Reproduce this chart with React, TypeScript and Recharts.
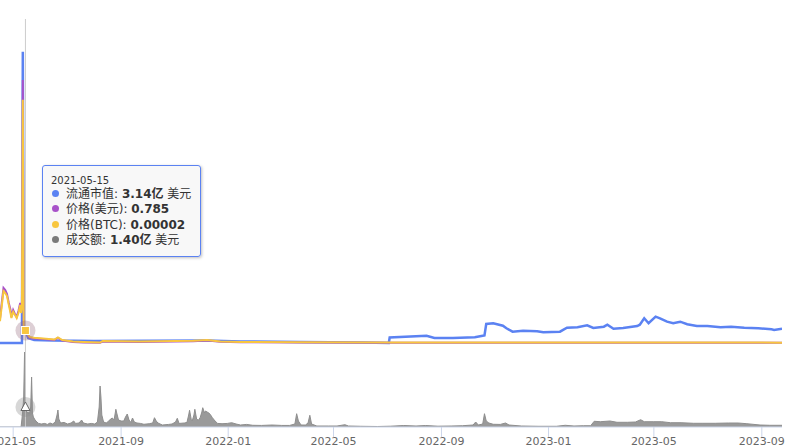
import React from "react";
import {
  Area,
  ComposedChart,
  Line,
  ReferenceDot,
  ReferenceLine,
  XAxis,
  YAxis,
} from "recharts";

// 流通市值 (亿 美元)
const capDates = [
  "2021-04-16", "2021-05-11", "2021-05-12", "2021-05-13", "2021-05-14", "2021-05-15",
  "2021-05-18", "2021-05-25", "2021-06-15", "2021-08-01", "2021-12-08", "2022-01-15",
  "2022-03-24", "2022-06-01", "2022-07-03", "2022-07-04", "2022-08-15", "2022-08-24",
  "2022-09-14", "2022-10-09", "2022-10-18", "2022-10-20", "2022-10-22", "2022-10-30",
  "2022-11-10", "2022-11-14", "2022-11-21", "2022-12-03", "2022-12-19", "2022-12-26",
  "2023-01-14", "2023-01-22", "2023-02-03", "2023-02-14", "2023-02-21", "2023-03-05",
  "2023-03-09", "2023-03-16", "2023-03-27", "2023-04-12", "2023-04-15", "2023-04-20",
  "2023-04-25", "2023-05-03", "2023-05-08", "2023-05-16", "2023-05-23", "2023-05-31",
  "2023-06-08", "2023-06-19", "2023-07-01", "2023-07-16", "2023-07-28", "2023-08-12",
  "2023-08-28", "2023-09-12", "2023-09-15", "2023-09-24",
];
const capValues = [
  0, 0, 72.8, 4.0, 3.5, 3.14,
  1.25, 0.75, 0.6, 0.5, 0.6, 0.4,
  0.25, 0.12, 0, 1.38, 1.83, 1.25,
  1.25, 1.43, 1.83, 1.88, 4.75, 4.93,
  4.33, 3.68, 2.83, 3.08, 2.93, 2.68,
  2.83, 3.83, 3.93, 4.43, 3.75, 4.08,
  4.58, 3.58, 3.75, 4.25, 4.58, 6.18,
  4.93, 6.58, 6.18, 5.33, 4.93, 5.33,
  4.68, 4.25, 4.25, 3.93, 4.08, 3.83,
  3.68, 3.43, 3.25, 3.58,
];

// 价格 (美元) and 价格 (BTC)
const priceDates = [
  "2021-04-16", "2021-04-18", "2021-04-20", "2021-04-22", "2021-04-24", "2021-04-26",
  "2021-04-28", "2021-04-29", "2021-05-01", "2021-05-03", "2021-05-05", "2021-05-07",
  "2021-05-09", "2021-05-10", "2021-05-11", "2021-05-12", "2021-05-13", "2021-05-14",
  "2021-05-15", "2021-05-18", "2021-05-20", "2021-05-25", "2021-06-04", "2021-06-17",
  "2021-06-21", "2021-06-26", "2021-07-08", "2021-07-20", "2021-08-08", "2021-08-11",
  "2021-09-22", "2021-11-22", "2021-12-08", "2021-12-23", "2022-01-15", "2022-03-24",
  "2022-07-04", "2022-10-20", "2023-02-28", "2023-06-21", "2023-09-24",
];
const priceUsd = [
  1.57, 2.62, 3.6, 3.47, 3.2, 2.62,
  2.16, 1.7, 2.16, 1.9, 1.7, 2.09,
  2.62, 2.09, 2.49, 17.2, 0.92, 0.72,
  0.785, 0.46, 0.33, 0.29, 0.26, 0.2,
  0.33, 0.16, 0.065, 0.033, 0.02, 0.098,
  0.065, 0.118, 0.164, 0.078, 0.052, 0.033,
  0.013, 0.013, 0.013, 0.013, 0.013,
];
const priceBtc = [
  3.5e-5, 5.9e-5, 8.3e-5, 8.0e-5, 7.5e-5, 6.1e-5,
  4.8e-5, 4.0e-5, 5.0e-5, 4.5e-5, 4.0e-5, 4.8e-5,
  6.1e-5, 4.8e-5, 5.8e-5, 3.89e-4, 2.2e-5, 1.9e-5,
  2.0e-5, 1.3e-5, 9.6e-6, 8.5e-6, 7.2e-6, 5.6e-6,
  8.8e-6, 4.8e-6, 2.4e-6, 1.6e-6, 8e-7, 3.2e-6,
  2.4e-6, 3.5e-6, 4.8e-6, 2.4e-6, 1.6e-6, 1.1e-6,
  8e-7, 1e-6, 8e-7, 8e-7, 6e-7,
];

// 成交额 (亿 美元)
const volDates = [
  "2021-04-16", "2021-05-10", "2021-05-11", "2021-05-12", "2021-05-13", "2021-05-14",
  "2021-05-15", "2021-05-16", "2021-05-17", "2021-05-18", "2021-05-19", "2021-05-20",
  "2021-05-21", "2021-05-22", "2021-05-23", "2021-05-24", "2021-05-26", "2021-05-28",
  "2021-05-30", "2021-06-02", "2021-06-06", "2021-06-09", "2021-06-12", "2021-06-15",
  "2021-06-18", "2021-06-20", "2021-06-21", "2021-06-22", "2021-06-24", "2021-06-28",
  "2021-07-02", "2021-07-06", "2021-07-09", "2021-07-11", "2021-07-15", "2021-07-18",
  "2021-07-20", "2021-07-25", "2021-07-29", "2021-08-02", "2021-08-05", "2021-08-07",
  "2021-08-08", "2021-08-09", "2021-08-10", "2021-08-12", "2021-08-15", "2021-08-18",
  "2021-08-20", "2021-08-22", "2021-08-24", "2021-08-26", "2021-08-27", "2021-08-29",
  "2021-09-01", "2021-09-04", "2021-09-06", "2021-09-08", "2021-09-10", "2021-09-12",
  "2021-09-14", "2021-09-16", "2021-09-19", "2021-09-23", "2021-09-27", "2021-10-03",
  "2021-10-07", "2021-10-09", "2021-10-11", "2021-10-13", "2021-10-18", "2021-10-25",
  "2021-10-29", "2021-11-02", "2021-11-04", "2021-11-06", "2021-11-12", "2021-11-15",
  "2021-11-17", "2021-11-18", "2021-11-20", "2021-11-21", "2021-11-23", "2021-11-24",
  "2021-11-26", "2021-11-28", "2021-11-30", "2021-12-02", "2021-12-03", "2021-12-05",
  "2021-12-06", "2021-12-08", "2021-12-10", "2021-12-12", "2021-12-14", "2021-12-17",
  "2021-12-20", "2021-12-25", "2021-12-31", "2022-01-05", "2022-01-10", "2022-01-15",
  "2022-01-22", "2022-01-29", "2022-02-08", "2022-02-20", "2022-03-03", "2022-03-12",
  "2022-03-18", "2022-03-20", "2022-03-22", "2022-03-25", "2022-03-30", "2022-04-02",
  "2022-04-04", "2022-04-06", "2022-04-12", "2022-04-25", "2022-05-05", "2022-05-14",
  "2022-05-18", "2022-06-01", "2022-06-20", "2022-07-05", "2022-07-20", "2022-08-03",
  "2022-08-14", "2022-08-28", "2022-09-12", "2022-09-25", "2022-10-07", "2022-10-10",
  "2022-10-13", "2022-10-18", "2022-10-20", "2022-10-22", "2022-10-25", "2022-10-30",
  "2022-11-07", "2022-11-13", "2022-11-17", "2022-12-01", "2022-12-20", "2023-01-10",
  "2023-01-20", "2023-01-30", "2023-02-10", "2023-02-18", "2023-02-22", "2023-03-01",
  "2023-03-12", "2023-03-20", "2023-04-01", "2023-04-10", "2023-04-16", "2023-04-20",
  "2023-05-01", "2023-05-10", "2023-05-20", "2023-06-01", "2023-06-15", "2023-06-25",
  "2023-07-10", "2023-07-25", "2023-08-05", "2023-08-15", "2023-08-30", "2023-09-10",
  "2023-09-24",
];
const volValues = [
  0, 0, 0.56, 1.2, 2.1, 5.25,
  1.4, 1.12, 0.98, 1.05, 0.91, 1.05,
  1.4, 3.5, 0.98, 0.7, 0.49, 0.35,
  0.25, 0.21, 0.25, 0.18, 0.28, 0.21,
  0.35, 0.84, 1.19, 0.56, 0.28, 0.32,
  0.21, 0.28, 0.42, 0.25, 0.28, 0.49,
  0.28, 0.21, 0.25, 0.21, 0.35, 1.4,
  2.87, 2.1, 0.84, 0.35, 0.28, 0.42,
  0.56, 0.63, 0.49, 1.24, 0.98, 0.49,
  0.42, 0.42, 0.7, 0.91, 0.49, 0.32,
  0.63, 0.35, 0.28, 0.25, 0.19, 0.23,
  0.28, 0.65, 0.42, 0.28, 0.14, 0.18,
  0.21, 0.35, 0.61, 0.25, 0.28, 0.32,
  0.84, 1.17, 0.49, 0.42, 0.84, 1.24,
  0.56, 0.47, 0.65, 1.05, 1.35, 0.98,
  1.12, 1.05, 0.98, 0.84, 0.65, 0.42,
  0.25, 0.23, 0.25, 0.3, 0.21, 0.14,
  0.18, 0.12, 0.11, 0.14, 0.11, 0.11,
  0.21, 0.93, 0.42, 0.14, 0.14, 0.28,
  0.82, 0.21, 0.07, 0.07, 0.07, 0.16,
  0.07, 0.05, 0.035, 0.056, 0.105, 0.07,
  0.105, 0.056, 0.07, 0.09, 0.14, 0.35,
  0.14, 0.21, 0.93, 0.42, 0.28, 0.19,
  0.18, 0.28, 0.14, 0.07, 0.05, 0.05,
  0.12, 0.07, 0.09, 0.09, 0.4, 0.37,
  0.42, 0.33, 0.33, 0.35, 0.51, 0.37,
  0.37, 0.37, 0.3, 0.3, 0.26, 0.26,
  0.26, 0.28, 0.28, 0.23, 0.14, 0.12,
  0.12,
];

const tickDates = [
  "2021-05-01", "2021-09-01", "2022-01-01", "2022-05-01",
  "2022-09-01", "2023-01-01", "2023-05-01", "2023-09-01",
];
const xStart = "2021-04-16";
const xEnd = "2023-09-24";
const hoverDate = "2021-05-15";

const COLORS = {
  cap: "#5b82f2",
  usd: "#a852c9",
  btc: "#f8c63f",
  vol: "#9a9a9a",
  volDot: "#7a7a7a",
};

const ts = (s: string) => Date.parse(s);
const zip = (dates: string[], values: number[]) =>
  dates.map((d, i) => ({ t: ts(d), v: values[i] }));

const capData = zip(capDates, capValues);
const usdData = zip(priceDates, priceUsd);
const btcData = zip(priceDates, priceBtc);
const volData = zip(volDates, volValues);

const hi = priceDates.indexOf(hoverDate);
const hoverCap = capValues[capDates.indexOf(hoverDate)];
const hoverUsd = priceUsd[hi];
const hoverBtc = priceBtc[hi];
const hoverVol = volValues[volDates.indexOf(hoverDate)];

const tickFont = {
  fontSize: 11,
  fill: "#666666",
  fontFamily: "DejaVu Sans, sans-serif",
};

const SquareMarker = (p: any) => (
  <g>
    <circle cx={p.cx} cy={p.cy} r={10} fill="rgba(150,105,125,0.32)" />
    <rect
      x={p.cx - 4}
      y={p.cy - 4}
      width={8}
      height={8}
      fill={COLORS.btc}
      stroke="#ffffff"
      strokeWidth={1}
    />
  </g>
);

const TriangleMarker = (p: any) => (
  <g>
    <circle cx={p.cx} cy={p.cy} r={10} fill="rgba(140,140,140,0.35)" />
    <polygon
      points={`${p.cx},${p.cy - 5} ${p.cx + 4.5},${p.cy + 3.5} ${p.cx - 4.5},${p.cy + 3.5}`}
      fill="#ffffff"
      stroke="#666666"
      strokeWidth={1}
    />
  </g>
);

const rows = [
  { color: COLORS.cap, name: "流通市值", value: `${hoverCap.toFixed(2)}亿`, unit: " 美元" },
  { color: COLORS.usd, name: "价格(美元)", value: `${hoverUsd}`, unit: "" },
  { color: COLORS.btc, name: "价格(BTC)", value: hoverBtc.toFixed(5), unit: "" },
  { color: COLORS.volDot, name: "成交额", value: `${hoverVol.toFixed(2)}亿`, unit: " 美元" },
];

function TooltipBox() {
  return (
    <div
      style={{
        position: "absolute",
        left: 42,
        top: 165,
        width: 143,
        padding: "9px 7px 8px 7px",
        border: `1px solid ${COLORS.cap}`,
        borderRadius: 3,
        background: "rgba(247,247,247,0.88)",
        boxShadow: "1px 1px 3px rgba(0,0,0,0.25)",
        color: "#333333",
        fontFamily: "DejaVu Sans, 'Noto Sans CJK SC', sans-serif",
        whiteSpace: "nowrap",
      }}
    >
      <div style={{ fontSize: 10, lineHeight: "12px", paddingLeft: 1 }}>{hoverDate}</div>
      {rows.map((r) => (
        <div key={r.name} style={{ fontSize: 12, lineHeight: "15.3px" }}>
          <span
            style={{
              display: "inline-block",
              width: 7,
              height: 7,
              borderRadius: "50%",
              background: r.color,
              margin: "0 7px 1px 2px",
            }}
          />
          {r.name}: <b>{r.value}</b>
          {r.unit}
        </div>
      ))}
    </div>
  );
}

export default function App() {
  return (
    <div
      style={{
        position: "absolute",
        left: 0,
        top: 0,
        width: 787,
        height: 447,
        overflow: "hidden",
        background: "#ffffff",
      }}
    >
      <ComposedChart
        width={787}
        height={447}
        margin={{ top: 19, right: 5, bottom: 0, left: 0 }}
      >
        <XAxis
          dataKey="t"
          type="number"
          domain={[ts(xStart), ts(xEnd)]}
          allowDataOverflow
          ticks={tickDates.map(ts)}
          interval={0}
          tickFormatter={(v: number) => new Date(v).toISOString().slice(0, 7)}
          height={20}
          tickSize={10}
          tickMargin={0}
          stroke="#ccd6eb"
          tick={tickFont}
        />
        <YAxis yAxisId="cap" hide type="number" domain={[-21, 81]} allowDataOverflow />
        <YAxis yAxisId="usd" hide type="number" domain={[-5.494, 21.19]} allowDataOverflow />
        <YAxis yAxisId="btc" hide type="number" domain={[-1.344e-4, 5.184e-4]} allowDataOverflow />
        <YAxis yAxisId="vol" hide type="number" domain={[0, 28.56]} allowDataOverflow />
        <Area
          yAxisId="vol"
          data={volData}
          dataKey="v"
          type="linear"
          stroke="#8e8e8e"
          strokeWidth={1}
          fill={COLORS.vol}
          fillOpacity={1}
          isAnimationActive={false}
          dot={false}
          activeDot={false}
        />
        <ReferenceLine
          yAxisId="cap"
          x={ts(hoverDate)}
          stroke="#cccccc"
          strokeWidth={1}
        />
        <Line
          yAxisId="cap"
          data={capData}
          dataKey="v"
          type="linear"
          stroke={COLORS.cap}
          strokeWidth={2.5}
          dot={false}
          activeDot={false}
          isAnimationActive={false}
        />
        <Line
          yAxisId="usd"
          data={usdData}
          dataKey="v"
          type="linear"
          stroke={COLORS.usd}
          strokeWidth={2}
          dot={false}
          activeDot={false}
          isAnimationActive={false}
        />
        <Line
          yAxisId="btc"
          data={btcData}
          dataKey="v"
          type="linear"
          stroke={COLORS.btc}
          strokeWidth={2}
          dot={false}
          activeDot={false}
          isAnimationActive={false}
        />
        <ReferenceDot
          yAxisId="btc"
          x={ts(hoverDate)}
          y={hoverBtc}
          shape={SquareMarker}
          ifOverflow="visible"
        />
        <ReferenceDot
          yAxisId="vol"
          x={ts(hoverDate)}
          y={hoverVol}
          shape={TriangleMarker}
          ifOverflow="visible"
        />
      </ComposedChart>
      <TooltipBox />
    </div>
  );
}
